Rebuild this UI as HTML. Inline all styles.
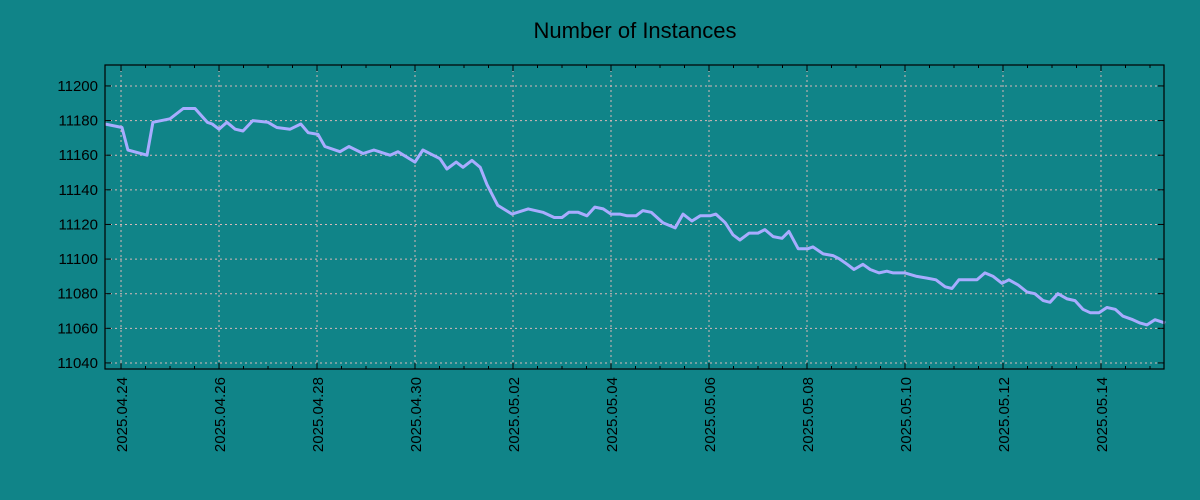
<!DOCTYPE html>
<html><head><meta charset="utf-8"><style>
body{margin:0;background:#108488;}
svg{display:block;font-family:"Liberation Sans","DejaVu Sans",sans-serif;}
</style></head><body>
<svg id="chart" width="1200" height="500">
<rect width="1200" height="500" fill="#108488"/>
<text x="635" y="38" font-size="22" text-anchor="middle" fill="#000">Number of Instances</text>
<g id="grid"></g><g id="axes"></g><g id="series"></g>
<rect x="105" y="65" width="1059" height="304" fill="none" stroke="#000" stroke-width="1.2"/>
</svg>
<script>
// days since 2025-04-24 00:00
const days=[-0.33,0.02,0.14,0.53,0.65,1.0,1.27,1.51,1.76,1.86,2.0,2.16,2.33,2.49,2.69,3.0,3.18,3.45,3.67,3.82,4.02,4.16,4.47,4.65,4.94,5.16,5.49,5.65,6.0,6.16,6.37,6.51,6.65,6.84,6.98,7.16,7.33,7.47,7.69,7.98,8.31,8.61,8.84,9.0,9.14,9.33,9.51,9.67,9.84,10.0,10.18,10.33,10.51,10.65,10.82,11.06,11.31,11.47,11.65,11.82,12.02,12.14,12.33,12.49,12.63,12.82,13.0,13.14,13.31,13.49,13.63,13.82,14.02,14.12,14.33,14.53,14.67,14.82,14.96,15.14,15.29,15.47,15.63,15.76,16.0,16.24,16.45,16.63,16.82,16.96,17.1,17.47,17.63,17.8,17.98,18.12,18.31,18.49,18.65,18.82,18.96,19.12,19.31,19.47,19.63,19.78,19.96,20.12,20.29,20.45,20.65,20.8,20.94,21.1,21.31];
const instances=[11178,11176,11163,11160,11179,11181,11187,11187,11179,11178,11175,11179,11175,11174,11180,11179,11176,11175,11178,11173,11172,11165,11162,11165,11161,11163,11160,11162,11156,11163,11160,11158,11152,11156,11153,11157,11153,11143,11131,11126,11129,11127,11124,11124,11127,11127,11125,11130,11129,11126,11126,11125,11125,11128,11127,11121,11118,11126,11122,11125,11125,11126,11121,11114,11111,11115,11115,11117,11113,11112,11116,11106,11106,11107,11103,11102,11100,11097,11094,11097,11094,11092,11093,11092,11092,11090,11089,11088,11084,11083,11088,11088,11092,11090,11086,11088,11085,11081,11080,11076,11075,11080,11077,11076,11071,11069,11069,11072,11071,11067,11065,11063,11062,11065,11063];
const yTicks=[11040,11060,11080,11100,11120,11140,11160,11180,11200];
const xTickLabels=["2025.04.24","2025.04.26","2025.04.28","2025.04.30","2025.05.02","2025.05.04","2025.05.06","2025.05.08","2025.05.10","2025.05.12","2025.05.14"];
const NS="http://www.w3.org/2000/svg";
const L=105,R=1164,T=65,B=369;
const x0=-0.327,x1=21.286,y0=11036.5,y1=11212.1;
const sx=d=>L+(d-x0)/(x1-x0)*(R-L);
const sy=v=>B-(v-y0)/(y1-y0)*(B-T);
function mk(tag,attrs,parent){const e=document.createElementNS(NS,tag);for(const k in attrs)e.setAttribute(k,attrs[k]);parent.appendChild(e);return e;}
const grid=document.getElementById('grid'),axes=document.getElementById('axes'),ser=document.getElementById('series');
yTicks.forEach(v=>{
  const y=sy(v);
  const g=mk('line',{x1:L,x2:R,y1:y,y2:y,stroke:'#d8b8b8','stroke-width':1,'stroke-dasharray':'2,3'},grid);
  
  
  const t1=mk('line',{x1:L,x2:L+6,y1:y,y2:y,stroke:'#000'},axes);
  
  
  mk('line',{x1:R-6,x2:R,y1:y,y2:y,stroke:'#000'},axes);
  const t=mk('text',{x:L-7,y:y+5,'font-size':15,'text-anchor':'end',fill:'#000'},axes);
  t.textContent=v;
  
  
});
for(let h=-0.0;h<=21.5;h+=0.5){
  if(h<x0||h>x1)continue;
  const x=sx(h);const major=(Math.round(h*2)%4===0);
  mk('line',{x1:x,x2:x,y1:B,y2:B-(major?6:3),stroke:'#000'},axes);
  mk('line',{x1:x,x2:x,y1:T,y2:T+(major?6:3),stroke:'#000'},axes);
}
xTickLabels.forEach((lab,i)=>{
  const x=sx(i*2);
  const g=mk('line',{x1:x,x2:x,y1:T,y2:B,stroke:'#d8b8b8','stroke-width':1,'stroke-dasharray':'2,3'},grid);
  
  
  const t=mk('text',{x:0,y:0,'font-size':15,'text-anchor':'end',fill:'#000',transform:`translate(${x+6},${B+8}) rotate(-90)`},axes);
  t.textContent=lab;
  
  
});
const pts=days.map((d,i)=>sx(d).toFixed(1)+','+sy(instances[i]).toFixed(1)).join(' ');
const pl=mk('polyline',{points:pts,fill:'none',stroke:'#a8acff','stroke-width':3,'stroke-linejoin':'round'},ser);


</script>
</body></html>
